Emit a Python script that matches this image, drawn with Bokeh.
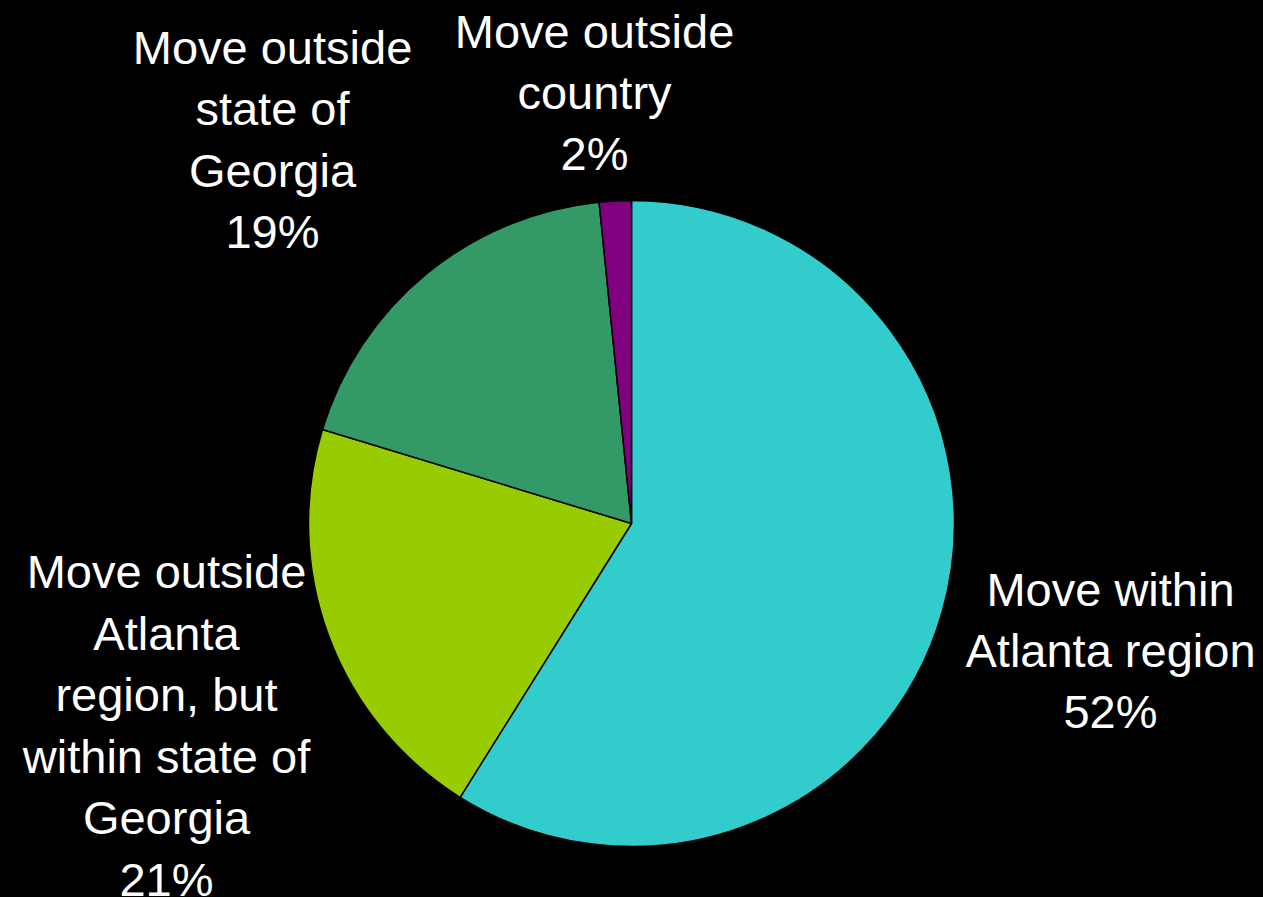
import math
from bokeh.plotting import figure
from bokeh.models import ColumnDataSource, Range1d
from bokeh.core.properties import value
from bokeh.embed import file_html
from bokeh.resources import INLINE

# ---- data ----
categories = [
    "Move within Atlanta region",
    "Move outside Atlanta region, but within state of Georgia",
    "Move outside state of Georgia",
    "Move outside country",
]
# slice shares as drawn in the picture (percent of the circle)
slice_share = [58.9, 20.8, 18.7, 1.6]
# percentages printed in the labels
label_pct = [52, 21, 19, 2]
label_text = [
    "Move within\nAtlanta region",
    "Move outside\nAtlanta\nregion, but\nwithin state of\nGeorgia",
    "Move outside\nstate of\nGeorgia",
    "Move outside\ncountry",
]

# ---- styles / layout ----
colors = ["#33CCCC", "#99CC00", "#339966", "#800080"]
label_dx = [479, -465, -359, -37]
label_dy = [-127, -202, 384, 431]
RADIUS = 323

W, H = 1263, 897
p = figure(width=W, height=H, output_backend="svg", toolbar_location=None,
           x_range=Range1d(-631, 632), y_range=Range1d(-374, 523),
           background_fill_color="black", border_fill_color="black",
           min_border=0)
p.axis.visible = False
p.grid.visible = False
p.outline_line_color = None

total = sum(slice_share)
starts, ends = [], []
cum = 0.0
for v in slice_share:
    a0 = math.pi / 2 - 2 * math.pi * cum / total
    cum += v
    a1 = math.pi / 2 - 2 * math.pi * cum / total
    starts.append(a0)
    ends.append(a1)

src = ColumnDataSource(dict(x=[0] * 4, y=[0] * 4, start=starts, end=ends,
                            color=colors, cat=categories))
p.wedge(x="x", y="y", radius=RADIUS, start_angle="start", end_angle="end",
        direction="clock", fill_color="color", line_color="black",
        line_width=1.5, source=src)

texts = [f"{t}\n{pct}%" for t, pct in zip(label_text, label_pct)]
lsrc = ColumnDataSource(dict(x=label_dx, y=label_dy, text=texts))
p.text(x="x", y="y", text="text", source=lsrc, text_color="white",
       text_font=value("Liberation Sans"), text_font_size="47px",
       text_align="center", text_baseline="middle", text_line_height=1.16)

html = file_html(p, INLINE)
html = html.replace("<head>", "<head><style>html,body{background:#000;}</style>", 1)
open("out.html", "w").write(html)
